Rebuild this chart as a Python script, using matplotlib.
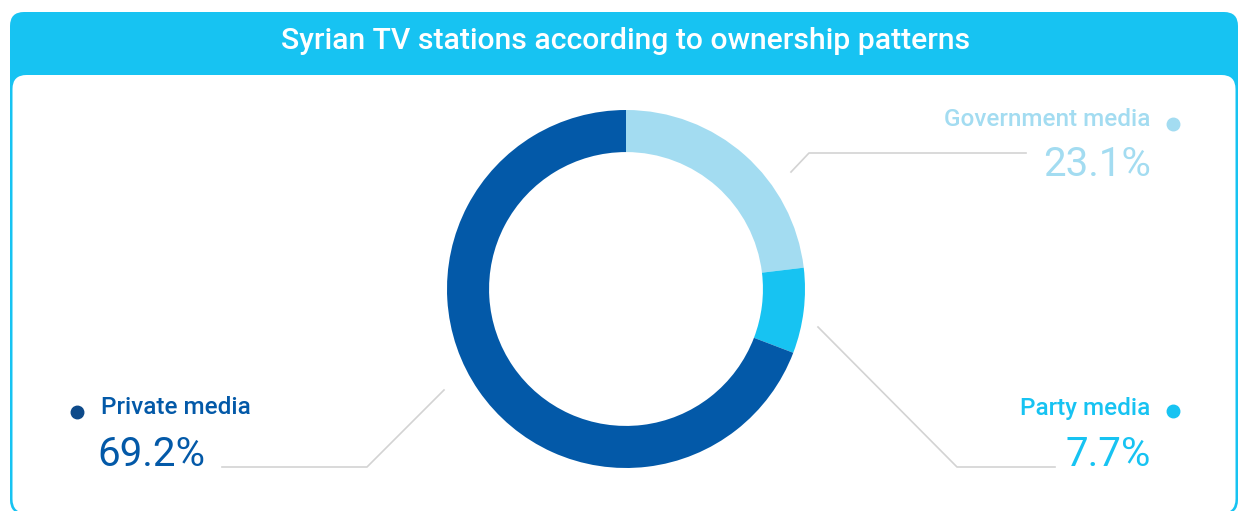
import matplotlib.pyplot as plt
from matplotlib.patches import FancyBboxPatch

plt.rcParams['font.family'] = ['Roboto', 'DejaVu Sans']

labels = ['Government media', 'Party media', 'Private media']
shares = [23.1, 7.7, 69.2]
colors = ['#A3DCF1', '#17C3F2', '#0359A8']
dot_colors = ['#A3DCF1', '#17C3F2', '#0D4A8A']

title = 'Syrian TV stations according to ownership patterns'

W, H = 1241, 511
fig = plt.figure(figsize=(W / 100, H / 100), dpi=100)

# background layer in pixel coordinates
bg = fig.add_axes([0, 0, 1, 1])
bg.set_xlim(0, W)
bg.set_ylim(H, 0)
bg.axis('off')

bg.add_patch(FancyBboxPatch((10, 12), 1228, 502, boxstyle='round,pad=0,rounding_size=14',
                            fc='#17C3F2', ec='none'))
bg.add_patch(FancyBboxPatch((12.5, 75), 1223, 438, boxstyle='round,pad=0,rounding_size=14',
                            fc='white', ec='none'))
bg.text(626, 41, title, color='white', fontsize=21.7, fontweight='medium',
        ha='center', va='center')

# donut
cx, cy, r = 626, 289, 179
ax = fig.add_axes([(cx - r) / W, (H - cy - r) / H, 2 * r / W, 2 * r / H])
ax.pie(shares, colors=colors, startangle=90, counterclock=False, radius=1,
       wedgeprops=dict(width=0.235, edgecolor='none'))
ax.set_xlim(-1, 1)
ax.set_ylim(-1, 1)
ax.set_aspect('auto')
ax.axis('off')

line_kw = dict(color='#D3D3D3', lw=1.2, zorder=1)
name_kw = dict(fontsize=17.5, fontweight='medium', va='center')
pct_kw = dict(fontsize=29, va='center')

# Government media (top right)
bg.plot([791, 809, 1026], [172, 153, 153], **line_kw)
bg.text(1150, 120, labels[0], color=colors[0], ha='right', **name_kw)
bg.text(1151, 165, f'{shares[0]}%', color=colors[0], ha='right', **pct_kw)
bg.plot([1173], [124], 'o', color=dot_colors[0], ms=9)

# Party media (bottom right)
bg.plot([818, 957, 1055], [327, 467, 467], **line_kw)
bg.text(1150, 408, labels[1], color=colors[1], ha='right', **name_kw)
bg.text(1151, 454, f'{shares[1]}%', color=colors[1], ha='right', **pct_kw)
bg.plot([1173], [411], 'o', color=dot_colors[1], ms=9)

# Private media (bottom left)
bg.plot([444, 367, 222], [390, 467, 467], **line_kw)
bg.text(101, 408, labels[2], color=colors[2], ha='left', **name_kw)
bg.text(97, 454, f'{shares[2]}%', color=colors[2], ha='left', **pct_kw)
bg.plot([77], [412], 'o', color=dot_colors[2], ms=9)

fig.savefig('out.png', dpi=100)
